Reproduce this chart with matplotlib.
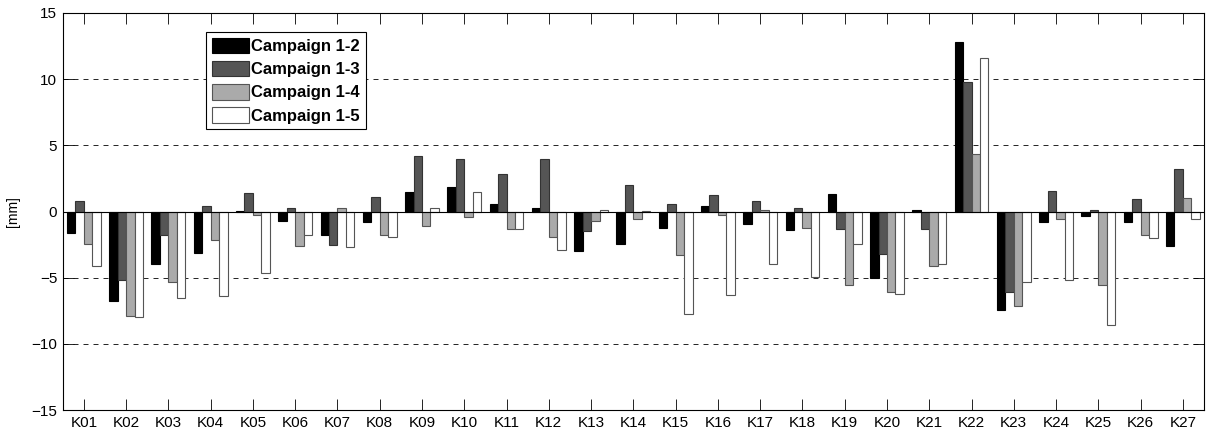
import matplotlib
matplotlib.use("Agg")
import matplotlib.pyplot as plt
import numpy as np

plt.rcParams['font.family'] = ['Liberation Sans', 'DejaVu Sans']

stations = ["K%02d" % i for i in range(1, 28)]
series_names = ["Campaign 1-2", "Campaign 1-3", "Campaign 1-4", "Campaign 1-5"]

c12 = [-1.61, -6.80, -4.00, -3.15, 0.03, -0.73, -1.79, -0.78, 1.44, 1.84,
       0.58, 0.23, -3.02, -2.42, -1.21, 0.43, -0.96, -1.41, 1.36, -4.99,
       0.15, 12.80, -7.41, -0.81, -0.35, -0.81, -2.62]
c13 = [0.76, -5.21, -1.81, 0.43, 1.39, 0.23, -2.52, 1.13, 4.21, 4.00,
       2.82, 3.93, -1.51, 2.04, 0.60, 1.21, 0.76, 0.23, -1.34, -3.20,
       -1.34, 9.80, -6.12, 1.54, 0.15, 0.93, 3.20]
c14 = [-2.42, -7.91, -5.34, -2.12, -0.23, -2.59, 0.23, -1.74, -1.13, -0.40,
       -1.34, -1.94, -0.73, -0.60, -3.32, -0.23, 0.15, -1.21, -5.52, -6.12,
       -4.13, 4.33, -7.15, -0.60, -5.52, -1.74, 1.01]
c15 = [-4.13, -8.01, -6.50, -6.37, -4.61, -1.74, -2.72, -1.94, 0.23, 1.44,
       -1.34, -2.92, 0.15, 0.02, -7.78, -6.32, -3.93, -4.94, -2.42, -6.20,
       -4.00, 11.59, -5.31, -5.19, -8.56, -2.02, -0.53]

colors = ["#000000", "#555555", "#aaaaaa", "#ffffff"]
edges = ["#000000", "#333333", "#555555", "#555555"]

fig = plt.figure(figsize=(12.08, 4.32), dpi=100)
ax = fig.add_axes([62.7 / 1208, (432 - 410) / 432, (1204 - 62.7) / 1208, (410 - 13) / 432])

x = np.arange(1, len(stations) + 1)
w = 0.2
data = [c12, c13, c14, c15]
for i, (vals, name) in enumerate(zip(data, series_names)):
    ax.bar(x + (i - 1.5) * w, vals, width=w, color=colors[i], edgecolor=edges[i],
           linewidth=0.8, label=name, zorder=3)

ax.axhline(0, color="black", linewidth=0.8, zorder=4)
for yv in [-10, -5, 5, 10]:
    ax.axhline(yv, color="black", linestyle=(0, (6, 6)), linewidth=0.6, zorder=1)

ax.set_xlim(0.5, 27.5)
ax.set_ylim(-15, 15)
ax.set_xticks(x)
ax.set_xticklabels(stations)
ax.set_yticks([-15, -10, -5, 0, 5, 10, 15])
ax.tick_params(direction="in", top=True, right=True, labelsize=11, length=8, width=0.6, pad=4)
ax.set_ylabel("[mm]", fontsize=10, labelpad=8)
for s in ax.spines.values():
    s.set_linewidth(0.8)

leg = ax.legend(loc="upper left", bbox_to_anchor=(0.1256, 0.952), prop={"weight": "bold", "size": 12},
                frameon=True, fancybox=False, edgecolor="black", framealpha=1,
                handlelength=2.2, handleheight=1.05, handletextpad=0.15, labelspacing=0.4,
                borderpad=0.35, borderaxespad=0)
leg.get_frame().set_linewidth(0.8)
leg.set_zorder(10)

fig.savefig("out.png", dpi=100)
